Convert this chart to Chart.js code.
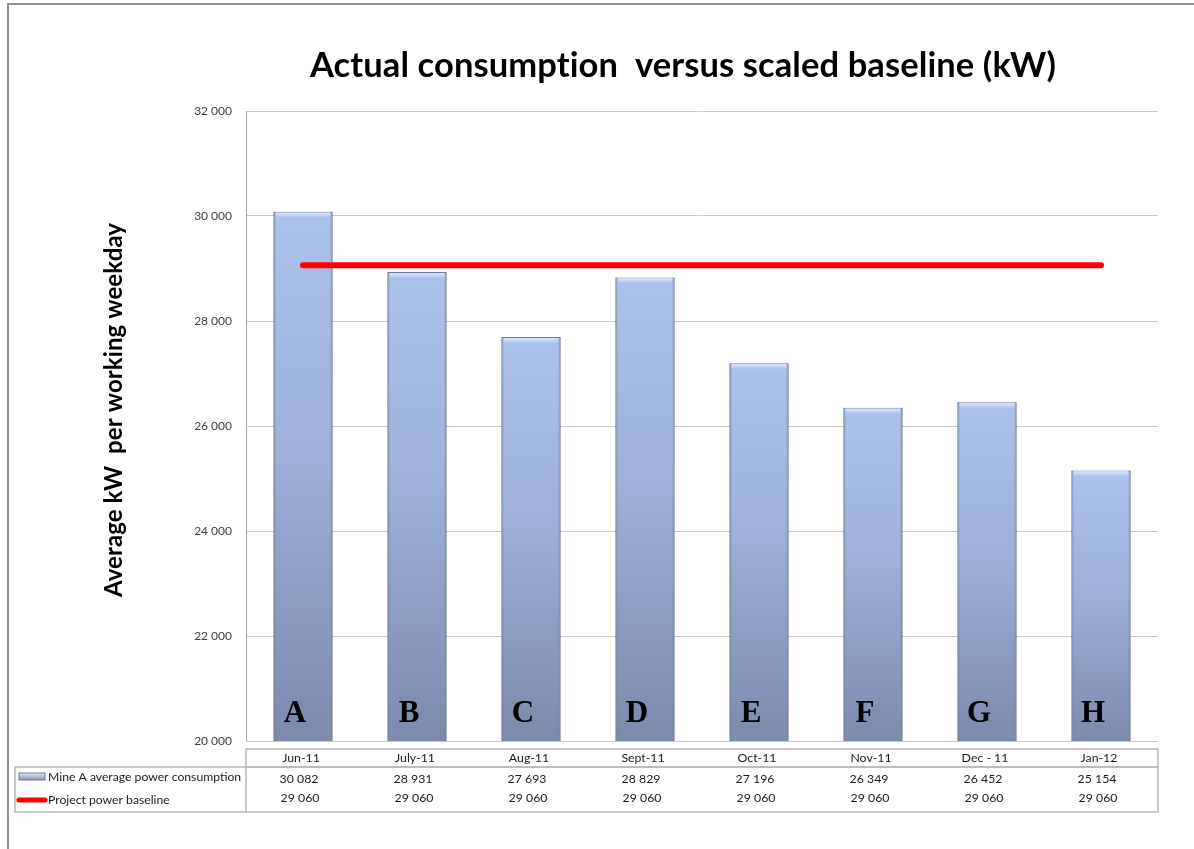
<!DOCTYPE html>
<html lang="en">
<head>
  <meta charset="UTF-8">
  <title>Actual consumption versus scaled baseline (kW)</title>
  <script src="https://cdn.jsdelivr.net/npm/chart.js"></script>
  <style>
    body { margin: 0; background: #fff; overflow: hidden; }
    canvas { display: block; }
  </style>
</head>
<body>
  <canvas id="grafico" width="1194" height="849"></canvas>

  <script>
    // Datos del grafico
    const meses = ['Jun-11', 'July-11', 'Aug-11', 'Sept-11', 'Oct-11', 'Nov-11', 'Dec - 11', 'Jan-12'];
    const letras = ['A', 'B', 'C', 'D', 'E', 'F', 'G', 'H'];
    const consumo = [30082, 28931, 27693, 28829, 27196, 26349, 26452, 25154];
    const baseline = [29060, 29060, 29060, 29060, 29060, 29060, 29060, 29060];
    const nombreConsumo = 'Mine A average power consumption';
    const nombreBaseline = 'Project power baseline';
    const titulo = 'Actual consumption  versus scaled baseline (kW)';
    const tituloEjeY = 'Average kW  per working weekday';

    const fuente = 'Lato, "DejaVu Sans", sans-serif';

    function miles(v) {
      return String(v).replace(/\B(?=(\d{3})+(?!\d))/g, ' ');
    }

    // Degradado de cada barra, de su tope a la base
    function colorBarra(ctx) {
      const chart = ctx.chart;
      if (!chart.chartArea || ctx.type !== 'data') return '#9fb3dc';
      const y = chart.scales.y;
      const top = y.getPixelForValue(ctx.raw);
      const bot = y.getPixelForValue(y.min);
      const g = chart.ctx.createLinearGradient(0, top, 0, bot);
      g.addColorStop(0, '#abc2ec');
      g.addColorStop(0.45, '#9db1da');
      g.addColorStop(1, '#7c8aab');
      return g;
    }

    const extras = {
      id: 'extras',
      beforeDraw(chart) {
        const c = chart.ctx;
        c.save();
        c.fillStyle = '#fff';
        c.fillRect(0, 0, chart.width, chart.height);
        // marco exterior
        c.strokeStyle = '#8f8f8f';
        c.lineWidth = 2;
        c.beginPath();
        c.moveTo(8, chart.height);
        c.lineTo(8, 4);
        c.lineTo(chart.width, 4);
        c.stroke();
        c.restore();
      },
      afterDatasetsDraw(chart) {
        const c = chart.ctx;
        const meta = chart.getDatasetMeta(1);
        const base = chart.scales.y.getPixelForValue(chart.scales.y.min);
        c.save();
        // relieve de las barras
        meta.data.forEach(bar => {
          const l = bar.x - bar.width / 2, r = bar.x + bar.width / 2;
          const t = bar.y;
          const hi = c.createLinearGradient(0, t, 0, t + 6);
          hi.addColorStop(0, 'rgba(235,242,255,0.95)');
          hi.addColorStop(1, 'rgba(235,242,255,0)');
          c.fillStyle = hi;
          c.fillRect(l + 2, t + 1, bar.width - 4, 6);
          c.fillStyle = 'rgba(70,85,120,0.3)';
          c.fillRect(l, t, 2, base - t);
          c.fillRect(r - 2, t, 2, base - t);
        });
        // letras sobre las barras
        c.fillStyle = '#000';
        c.font = 'bold 31px "Liberation Serif", serif';
        c.textAlign = 'center';
        c.textBaseline = 'alphabetic';
        meta.data.forEach((bar, i) => {
          c.fillText(letras[i], bar.x - 8, 722);
        });
        c.restore();
      },
      afterDraw(chart) {
        const c = chart.ctx;
        const x = chart.scales.x;
        const area = chart.chartArea;
        c.save();

        // titulo (sin ligaduras)
        c.fillStyle = '#000';
        c.font = 'bold 34.5px ' + fuente;
        c.letterSpacing = '0.1px';
        c.textAlign = 'center';
        c.textBaseline = 'alphabetic';
        c.fillText(titulo, 683, 77);

        // titulo eje Y
        c.save();
        c.translate(122, 410);
        c.rotate(-Math.PI / 2);
        c.font = 'bold 24px ' + fuente;
        c.fillText(tituloEjeY, 0, 0);
        c.restore();
        c.letterSpacing = '0px';

        // tabla de datos
        const izq = 15, sep = area.left, der = area.right;
        const y0 = 749, y1 = 767, y2 = 812;
        c.strokeStyle = '#b8b8b8';
        c.lineWidth = 1.5;
        c.strokeRect(sep, y0, der - sep, y1 - y0);
        c.strokeRect(izq, y1, der - izq, y2 - y1);
        c.beginPath();
        c.moveTo(sep, y1);
        c.lineTo(sep, y2);
        c.stroke();

        c.fillStyle = '#1a1a1a';
        c.font = '12.3px ' + fuente;
        c.textBaseline = 'middle';
        c.textAlign = 'center';
        meses.forEach((m, i) => {
          const cx = x.getPixelForValue(i);
          c.fillText(m, cx - 2, 758);
          c.fillText(miles(consumo[i]), cx - 4, 779);
          c.fillText(miles(baseline[i]), cx - 3, 798);
        });

        // leyenda de la tabla
        const g = c.createLinearGradient(0, 773, 0, 781);
        g.addColorStop(0, '#dfe8f8');
        g.addColorStop(1, '#7b89aa');
        c.fillStyle = g;
        c.fillRect(19, 773, 26, 7);
        c.strokeStyle = '#6f7c99';
        c.lineWidth = 1;
        c.strokeRect(19, 773, 26, 7);

        c.strokeStyle = '#ff0000';
        c.lineWidth = 5;
        c.lineCap = 'round';
        c.beginPath();
        c.moveTo(19, 800);
        c.lineTo(45, 800);
        c.stroke();

        c.fillStyle = '#1a1a1a';
        c.textAlign = 'left';
        c.font = '12.2px ' + fuente;
        c.fillText(nombreConsumo, 48, 777);
        c.fillText(nombreBaseline, 48, 800);

        c.restore();
      }
    };

    const ctx = document.getElementById('grafico').getContext('2d');
    const grafico = new Chart(ctx, {
      type: 'bar',
      data: {
        labels: meses,
        datasets: [
          {
            type: 'line',
            label: nombreBaseline,
            data: baseline,
            borderColor: '#ff0000',
            borderWidth: 6,
            borderCapStyle: 'round',
            pointRadius: 0,
            fill: false,
            order: 0
          },
          {
            label: nombreConsumo,
            data: consumo,
            backgroundColor: colorBarra,
            borderColor: '#6c7a98',
            borderWidth: 1,
            categoryPercentage: 1,
            barPercentage: 0.52,
            order: 1
          }
        ]
      },
      options: {
        responsive: false,
        animation: false,
        layout: { padding: { top: 111, right: 36, bottom: 108, left: 0 } },
        plugins: {
          legend: { display: false },
          tooltip: { enabled: false }
        },
        scales: {
          x: { display: false },
          y: {
            min: 20000,
            max: 32000,
            afterFit: s => { s.width = 246; },
            ticks: {
              stepSize: 2000,
              padding: 14,
              color: '#404040',
              font: { family: fuente, size: 12 },
              callback: v => miles(v)
            },
            grid: { color: '#c8c8c8', drawTicks: false },
            border: { display: true, color: '#a8a8a8' }
          }
        }
      },
      plugins: [extras]
    });
  </script>
</body>
</html>
